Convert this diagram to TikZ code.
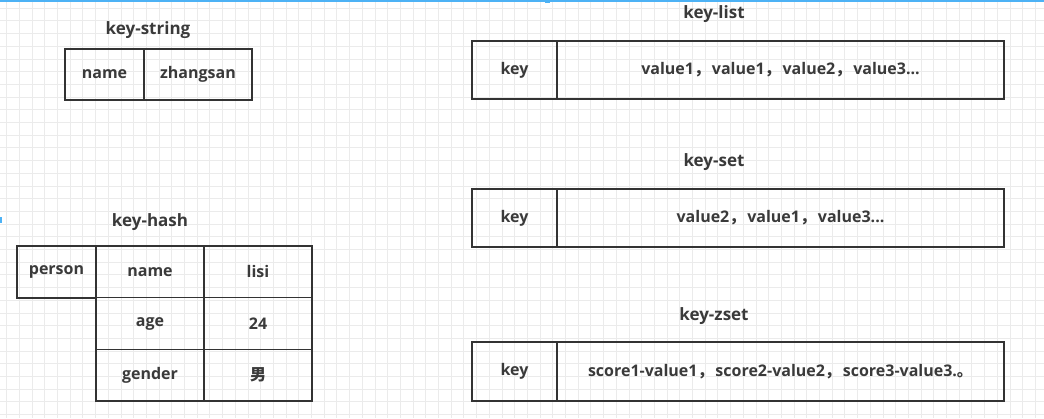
\documentclass[tikz,border=0pt]{standalone}
\usepackage{fontspec}
\setmainfont{Open Sans}
\newfontfamily\cjk{Noto Sans CJK SC}
\begin{document}
\begin{tikzpicture}[x=1pt,y=-1pt,
  cell/.style={draw=linegray,line width=1.4pt,minimum width=#1,inner sep=0pt,
               font=\bfseries\fontsize{16}{19}\selectfont,text=textgray},
  title/.style={font=\bfseries\fontsize{17}{20}\selectfont,text=textgray,inner sep=0pt},
]
\definecolor{linegray}{HTML}{333333}
\definecolor{textgray}{HTML}{3A3A3A}
\definecolor{gridgray}{HTML}{EBEBEB}
\definecolor{uiblue}{HTML}{4DB2F5}
% full-width CJK punctuation, followed by its trailing gap
\newcommand{\cjkcomma}{{\cjk\bfseries ，}\hspace{0.12em}}
\newcommand{\cjkstop}{{\cjk\bfseries 。}}
% canvas and grid
\useasboundingbox (0,0) rectangle (1044,418);
\fill[white] (0,0) rectangle (1044,418);
\foreach \i in {0,...,82} {
  \draw[gridgray,line width=0.6pt] ({6.5+12.7*\i},0) -- ({6.5+12.7*\i},418);
}
\foreach \j in {0,...,33} {
  \draw[gridgray,line width=0.6pt] (0,{8+12.7*\j}) -- (1044,{8+12.7*\j});
}
\fill[uiblue] (0,0) rectangle (1044,1.8);
\fill[uiblue] (545,0) rectangle (550,3);
\fill[uiblue] (0,217) rectangle (2,223);

% key-string
\node[title] (tstr) at (148,30) {key-string};
\node[cell=79pt,minimum height=51pt] (sk) at (104.5,74.5) {name};
\node[cell=108pt,minimum height=51pt] (sv) at (198,74.5) {zhangsan};

% key-hash
\node[title] (thash) at (150,222) {key-hash};
\node[cell=79pt,minimum height=52pt] (hk) at (56.5,272) {person};
\node[cell=108pt,minimum height=51.7pt] (hf1) at (150,271.85) {name};
\node[cell=108pt,minimum height=51.7pt] (hv1) at (258,271.85) {lisi};
\node[cell=108pt,minimum height=51.7pt] (hf2) at (150,323.5) {age};
\node[cell=108pt,minimum height=51.7pt] (hv2) at (258,323.5) {24};
\node[cell=108pt,minimum height=51.7pt] (hf3) at (150,375.15) {gender};
\node[cell=108pt,minimum height=51.7pt] (hv3) at (258,375.15) {{\cjk\bfseries 男}};

% key-list
\node[title] (tlist) at (714,14) {key-list};
\node[cell=85pt,minimum height=58pt] (lk) at (514.5,70) {key};
\node[cell=447pt,minimum height=58pt] (lv) at (780.5,70) {value1\cjkcomma value1\cjkcomma value2\cjkcomma value3...};

% key-set
\node[title] (tset) at (714,162) {key-set};
\node[cell=85pt,minimum height=58pt] (ek) at (514.5,218) {key};
\node[cell=447pt,minimum height=58pt] (ev) at (780.5,218) {value2\cjkcomma value1\cjkcomma value3...};

% key-zset
\node[title] (tzset) at (714,316) {key-zset};
\node[cell=85pt,minimum height=59pt] (zk) at (514.5,371.5) {key};
\node[cell=447pt,minimum height=59pt] (zv) at (780.5,371.5) {score1-value1\cjkcomma score2-value2\cjkcomma score3-value3.\cjkstop};
\end{tikzpicture}
\end{document}
